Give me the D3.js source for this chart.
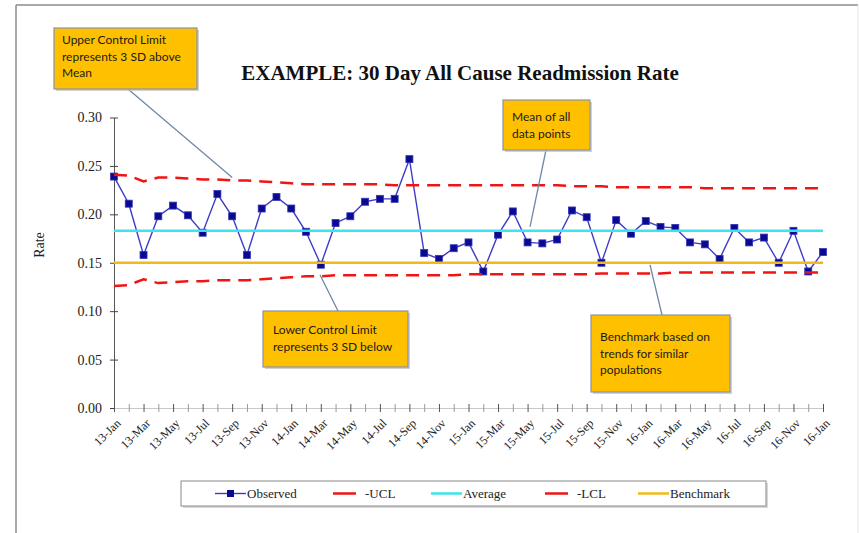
<!DOCTYPE html>
<html>
<head>
<meta charset="utf-8" />
<script src="https://cdn.jsdelivr.net/npm/d3@7"></script>
<style>
html, body { margin: 0; padding: 0; background: #fff; }
#chart { width: 860px; height: 533px; }
.serif { font-family: "Liberation Serif", "DejaVu Serif", serif; }
.callout text { font-family: Lato, "Open Sans", sans-serif; font-size: 12px; fill: #1a1a1a; }
</style>
</head>
<body>
<div id="chart"></div>
<script>
// month index 0 = 13-Jan ... 48 = 17-Jan (labelled 16-Jan in the original)
var tickLabels = ["13-Jan","13-Mar","13-May","13-Jul","13-Sep","13-Nov",
  "14-Jan","14-Mar","14-May","14-Jul","14-Sep","14-Nov",
  "15-Jan","15-Mar","15-May","15-Jul","15-Sep","15-Nov",
  "16-Jan","16-Mar","16-May","16-Jul","16-Sep","16-Nov","16-Jan"];

var observed = [0.239,0.211,0.158,0.198,0.209,0.199,0.181,0.221,0.198,0.158,0.206,0.218,0.206,
  0.182,0.148,0.191,0.198,0.213,0.216,0.216,0.257,0.160,0.154,0.165,0.171,0.141,0.179,0.203,
  0.171,0.170,0.174,0.204,0.197,0.150,0.194,0.180,0.193,0.187,0.186,0.171,0.169,0.154,0.186,
  0.171,0.176,0.150,0.183,0.141,0.161];

var ucl = [0.241,0.240,0.234,0.238,0.238,0.237,0.236,0.236,0.235,0.235,0.234,0.233,0.232,
  0.231,0.231,0.231,0.231,0.231,0.231,0.230,0.230,0.230,0.230,0.230,0.230,0.230,0.230,0.230,
  0.230,0.230,0.230,0.229,0.229,0.229,0.228,0.228,0.228,0.228,0.228,0.228,0.227,0.227,0.227,
  0.227,0.227,0.227,0.227,0.227,0.227];

var lcl = [0.126,0.127,0.133,0.129,0.130,0.131,0.131,0.132,0.132,0.132,0.133,0.134,0.135,
  0.136,0.136,0.137,0.137,0.137,0.137,0.137,0.137,0.137,0.137,0.137,0.138,0.138,0.138,0.138,
  0.138,0.138,0.138,0.138,0.138,0.139,0.139,0.139,0.139,0.139,0.140,0.140,0.140,0.140,0.140,
  0.140,0.140,0.140,0.140,0.140,0.140];

var average = 0.183;
var benchmark = 0.150;
var yTicks = [0, 0.05, 0.10, 0.15, 0.20, 0.25, 0.30];

var svg = d3.select('#chart').append('svg')
  .attr('width', 860).attr('height', 533);

// slide frame
svg.append('line').attr('x1', 16).attr('y1', 5).attr('x2', 858).attr('y2', 5)
  .attr('stroke', '#8c8c8c').attr('stroke-width', 1.5);
svg.append('line').attr('x1', 16).attr('y1', 5).attr('x2', 16).attr('y2', 533)
  .attr('stroke', '#8c8c8c').attr('stroke-width', 1.5);
svg.append('line').attr('x1', 858).attr('y1', 5).attr('x2', 858).attr('y2', 533)
  .attr('stroke', '#e4e4e4').attr('stroke-width', 1);

var n = observed.length;
var x = d3.scaleLinear().domain([0, n - 1]).range([114, 823]);
var y = d3.scaleLinear().domain([0, 0.30]).range([408, 117.5]);

// title
svg.append('text').attr('class', 'serif')
  .attr('x', 460).attr('y', 80)
  .attr('text-anchor', 'middle')
  .style('font-size', '21px').style('font-weight', 'bold').style('fill', '#111')
  .text('EXAMPLE: 30 Day All Cause Readmission Rate');

// y axis
var yAxis = svg.append('g').attr('class', 'serif')
  .attr('transform', 'translate(' + x(0) + ',0)')
  .call(d3.axisLeft(y).tickValues(yTicks).tickFormat(d3.format('.2f'))
    .tickSize(4).tickPadding(8).tickSizeOuter(0));
yAxis.select('.domain').attr('stroke', '#555');
yAxis.selectAll('.tick line').attr('x1', 4).attr('x2', -4).attr('stroke', '#444');
yAxis.selectAll('.tick text').style('font-size', '14px').style('fill', '#222');

svg.append('text').attr('class', 'serif')
  .attr('transform', 'translate(44,245) rotate(-90)')
  .attr('text-anchor', 'middle')
  .style('font-size', '14px').style('fill', '#222')
  .text('Rate');

// x axis
var xAxis = svg.append('g').attr('class', 'serif')
  .attr('transform', 'translate(0,' + y(0) + ')')
  .call(d3.axisBottom(x).tickValues(d3.range(n))
    .tickFormat(function(d) { return d % 2 === 0 ? tickLabels[d / 2] : ''; })
    .tickSize(4).tickSizeOuter(0));
xAxis.select('.domain').attr('stroke', '#c8c8c8');
xAxis.selectAll('.tick line').attr('y1', -4).attr('y2', 4)
  .attr('stroke', function(d) { return d % 2 === 0 ? '#555' : '#999'; });
xAxis.selectAll('.tick text')
  .attr('x', 0).attr('y', 0).attr('dy', '0.35em')
  .attr('text-anchor', 'end')
  .attr('transform', 'translate(4,13) rotate(-45)')
  .style('font-size', '12px').style('fill', '#222');

// observed series
var line = d3.line()
  .x(function(d, i) { return x(i); })
  .y(function(d) { return y(d); });

svg.append('path').datum(observed)
  .attr('d', line).attr('fill', 'none')
  .attr('stroke', '#3c3cc8').attr('stroke-width', 1.4);

svg.selectAll('rect.pt').data(observed).enter().append('rect')
  .attr('class', 'pt')
  .attr('x', function(d, i) { return x(i) - 3.5; })
  .attr('y', function(d) { return y(d) - 3.5; })
  .attr('width', 7).attr('height', 7)
  .attr('fill', '#0a0a90').attr('stroke', '#3434b8').attr('stroke-width', 0.8);

// control limits and reference lines
svg.append('path').datum(ucl)
  .attr('d', line).attr('fill', 'none')
  .attr('stroke', '#f01414').attr('stroke-width', 2.5).attr('stroke-dasharray', '13,8');

svg.append('line')
  .attr('x1', x(0)).attr('x2', x(n - 1))
  .attr('y1', y(average)).attr('y2', y(average))
  .attr('stroke', '#3de3ee').attr('stroke-width', 2.5);

svg.append('path').datum(lcl)
  .attr('d', line).attr('fill', 'none')
  .attr('stroke', '#f01414').attr('stroke-width', 2.5).attr('stroke-dasharray', '13,8');

svg.append('line')
  .attr('x1', x(0)).attr('x2', x(n - 1))
  .attr('y1', y(benchmark)).attr('y2', y(benchmark))
  .attr('stroke', '#f2b91c').attr('stroke-width', 2.5);

// legend
var legend = svg.append('g').attr('class', 'serif');
legend.append('rect').attr('x', 183).attr('y', 483).attr('width', 585).attr('height', 25)
  .attr('fill', '#d8d8d8');
legend.append('rect').attr('x', 181).attr('y', 481).attr('width', 585).attr('height', 25)
  .attr('fill', '#fff').attr('stroke', '#8a8a8a').attr('stroke-width', 1);

var legendItems = [
  { label: 'Observed', x: 215, color: '#3c3cc8', dash: null, marker: true },
  { label: '-UCL', x: 333, color: '#f01414', dash: '13,8', marker: false },
  { label: 'Average', x: 431, color: '#3de3ee', dash: null, marker: false },
  { label: '-LCL', x: 545, color: '#f01414', dash: '13,8', marker: false },
  { label: 'Benchmark', x: 638, color: '#f2b91c', dash: null, marker: false }
];
var ly = 493.5;
legendItems.forEach(function(it) {
  legend.append('line')
    .attr('x1', it.x).attr('x2', it.x + (it.dash ? 23 : 31))
    .attr('y1', ly).attr('y2', ly)
    .attr('stroke', it.color)
    .attr('stroke-width', it.marker ? 1.4 : 2.5);
  if (it.marker) {
    legend.append('rect').attr('x', it.x + 12).attr('y', ly - 3.5)
      .attr('width', 7).attr('height', 7).attr('fill', '#0a0a90');
  }
  legend.append('text')
    .attr('x', it.x + 32).attr('y', ly + 4.5)
    .style('font-size', '13px').style('fill', '#222')
    .text(it.label);
});

// callouts
var callouts = [
  { box: [54, 28, 143, 61], lines: ['Upper Control Limit', 'represents 3 SD above', 'Mean'],
    tx: 62, ty: 44, lead: [128, 89, x(8), y(ucl[8]) - 3] },
  { box: [503, 100, 87, 50], lines: ['Mean of all', 'data points'],
    tx: 512, ty: 121, lead: [546, 150, 530, y(average) - 4] },
  { box: [263, 311, 145, 56], lines: ['Lower Control Limit', 'represents 3 SD below'],
    tx: 273, ty: 334, lead: [320, y(benchmark) + 12, 338, 311] },
  { box: [591, 315, 139, 77], lines: ['Benchmark based on', 'trends for similar', 'populations'],
    tx: 600, ty: 341, lead: [650, y(benchmark) + 2, 662, 315] }
];

var cg = svg.append('g').attr('class', 'callout');
callouts.forEach(function(c) {
  cg.append('line')
    .attr('x1', c.lead[0]).attr('y1', c.lead[1])
    .attr('x2', c.lead[2]).attr('y2', c.lead[3])
    .attr('stroke', '#7088a8').attr('stroke-width', 1.3);
  cg.append('rect')
    .attr('x', c.box[0] + 2).attr('y', c.box[1] + 2)
    .attr('width', c.box[2]).attr('height', c.box[3])
    .attr('fill', '#bdbdbd').attr('opacity', 0.7);
  cg.append('rect')
    .attr('x', c.box[0]).attr('y', c.box[1])
    .attr('width', c.box[2]).attr('height', c.box[3])
    .attr('fill', '#ffc000').attr('stroke', '#8a93a3').attr('stroke-width', 1.2);
  c.lines.forEach(function(t, i) {
    cg.append('text').attr('x', c.tx).attr('y', c.ty + i * 16.5).text(t);
  });
});
</script>
</body>
</html>
